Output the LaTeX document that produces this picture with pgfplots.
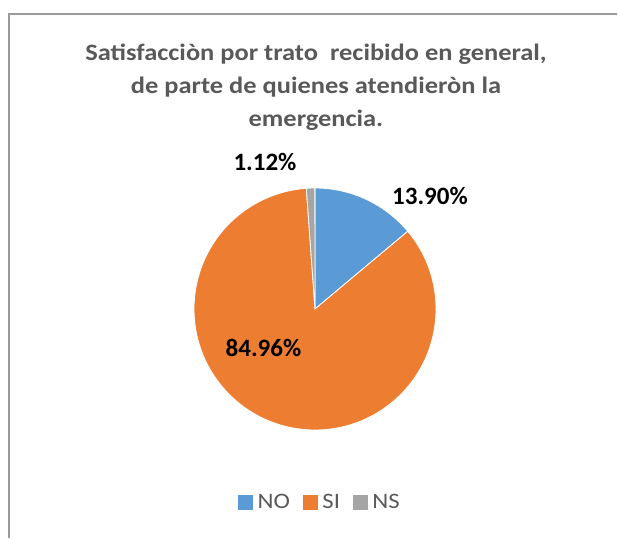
\documentclass[border=0pt]{standalone}
\usepackage{pgfplots}
\usepackage{pgfplotstable}
\pgfplotsset{compat=1.18}
\usepackage{fontspec}
\setmainfont{Carlito}
\definecolor{cNO}{HTML}{5B9BD5}
\definecolor{cSI}{HTML}{ED7D31}
\definecolor{cNS}{HTML}{A5A5A5}
\definecolor{txtgray}{HTML}{595959}
\definecolor{framegray}{HTML}{9A9A9A}

\pgfplotstableread{
label value
NO 13.90
SI 84.96
NS 1.12
}\piedata

\pgfplotstablegetelem{0}{value}\of\piedata \let\vNO\pgfplotsretval
\pgfplotstablegetelem{1}{value}\of\piedata \let\vSI\pgfplotsretval
\pgfplotstablegetelem{2}{value}\of\piedata \let\vNS\pgfplotsretval
\pgfmathsetmacro{\aA}{90}
\pgfmathsetmacro{\aB}{\aA-3.6*\vNO}
\pgfmathsetmacro{\aC}{\aB-3.6*\vSI}
\pgfmathsetmacro{\aD}{\aC-3.6*\vNS}
\def\cx{315}
\def\cy{229}
\def\R{121}
\newcommand{\tline}[1]{\scalebox{1.125}[1]{#1}}

\begin{document}
\begin{tikzpicture}
\begin{axis}[
  scale only axis,
  width=618pt, height=538pt,
  xmin=0, xmax=618, ymin=0, ymax=538,
  axis lines=none, ticks=none,
  clip=false,
  legend style={at={(axis cs:320,35.5)}, anchor=center, draw=none, fill=none,
    font=\fontsize{22}{26}\selectfont\color{txtgray},
    legend columns=3,
    /tikz/every odd column/.append style={column sep=0pt},
    /tikz/every even column/.append style={column sep=11pt},
    legend cell align=left},
]
\path (axis cs:0,0) rectangle (axis cs:618,538);
% frame
\draw[framegray, line width=1.6pt] (axis cs:9,0) -- (axis cs:9,524) -- (axis cs:617,524);
% slices
\fill[cNO, draw=white, line width=0.8pt] (axis cs:\cx,\cy) -- ++(\aA:\R pt) arc[start angle=\aA, end angle=\aB, radius=\R pt] -- cycle;
\fill[cSI, draw=white, line width=0.8pt] (axis cs:\cx,\cy) -- ++(\aB:\R pt) arc[start angle=\aB, end angle=\aC, radius=\R pt] -- cycle;
\fill[cNS, draw=white, line width=0.8pt] (axis cs:\cx,\cy) -- ++(\aC:\R pt) arc[start angle=\aC, end angle=\aD, radius=\R pt] -- cycle;
% data labels
\node[font=\fontsize{25}{30}\selectfont\bfseries] at (axis cs:430,342) {13.90\%};
\node[font=\fontsize{25}{30}\selectfont\bfseries] at (axis cs:263.5,190) {84.96\%};
\node[font=\fontsize{25}{30}\selectfont\bfseries] at (axis cs:265,376) {1.12\%};
% title
\node[font=\fontsize{23.5}{28}\selectfont\bfseries, text=txtgray, anchor=base, inner sep=0pt] at (axis cs:316,477.5)
  {\tline{Satisfacciòn por trato\ \ recibido en general,}};
\node[font=\fontsize{23.5}{28}\selectfont\bfseries, text=txtgray, anchor=base, inner sep=0pt] at (axis cs:316,444.5)
  {\tline{de parte de quienes atendieròn la}};
\node[font=\fontsize{23.5}{28}\selectfont\bfseries, text=txtgray, anchor=base, inner sep=0pt] at (axis cs:316,411.5)
  {\tline{emergencia.}};
% legend
\addlegendimage{legend image code/.code={\fill[cNO] (0pt,-7pt) rectangle (14pt,7pt); \path (17pt,0pt);}}
\addlegendentry{\tline{NO}}
\addlegendimage{legend image code/.code={\fill[cSI] (0pt,-7pt) rectangle (14pt,7pt); \path (17pt,0pt);}}
\addlegendentry{\tline{SI}}
\addlegendimage{legend image code/.code={\fill[cNS] (0pt,-7pt) rectangle (14pt,7pt); \path (17pt,0pt);}}
\addlegendentry{\tline{NS}}
\end{axis}
\end{tikzpicture}
\end{document}
